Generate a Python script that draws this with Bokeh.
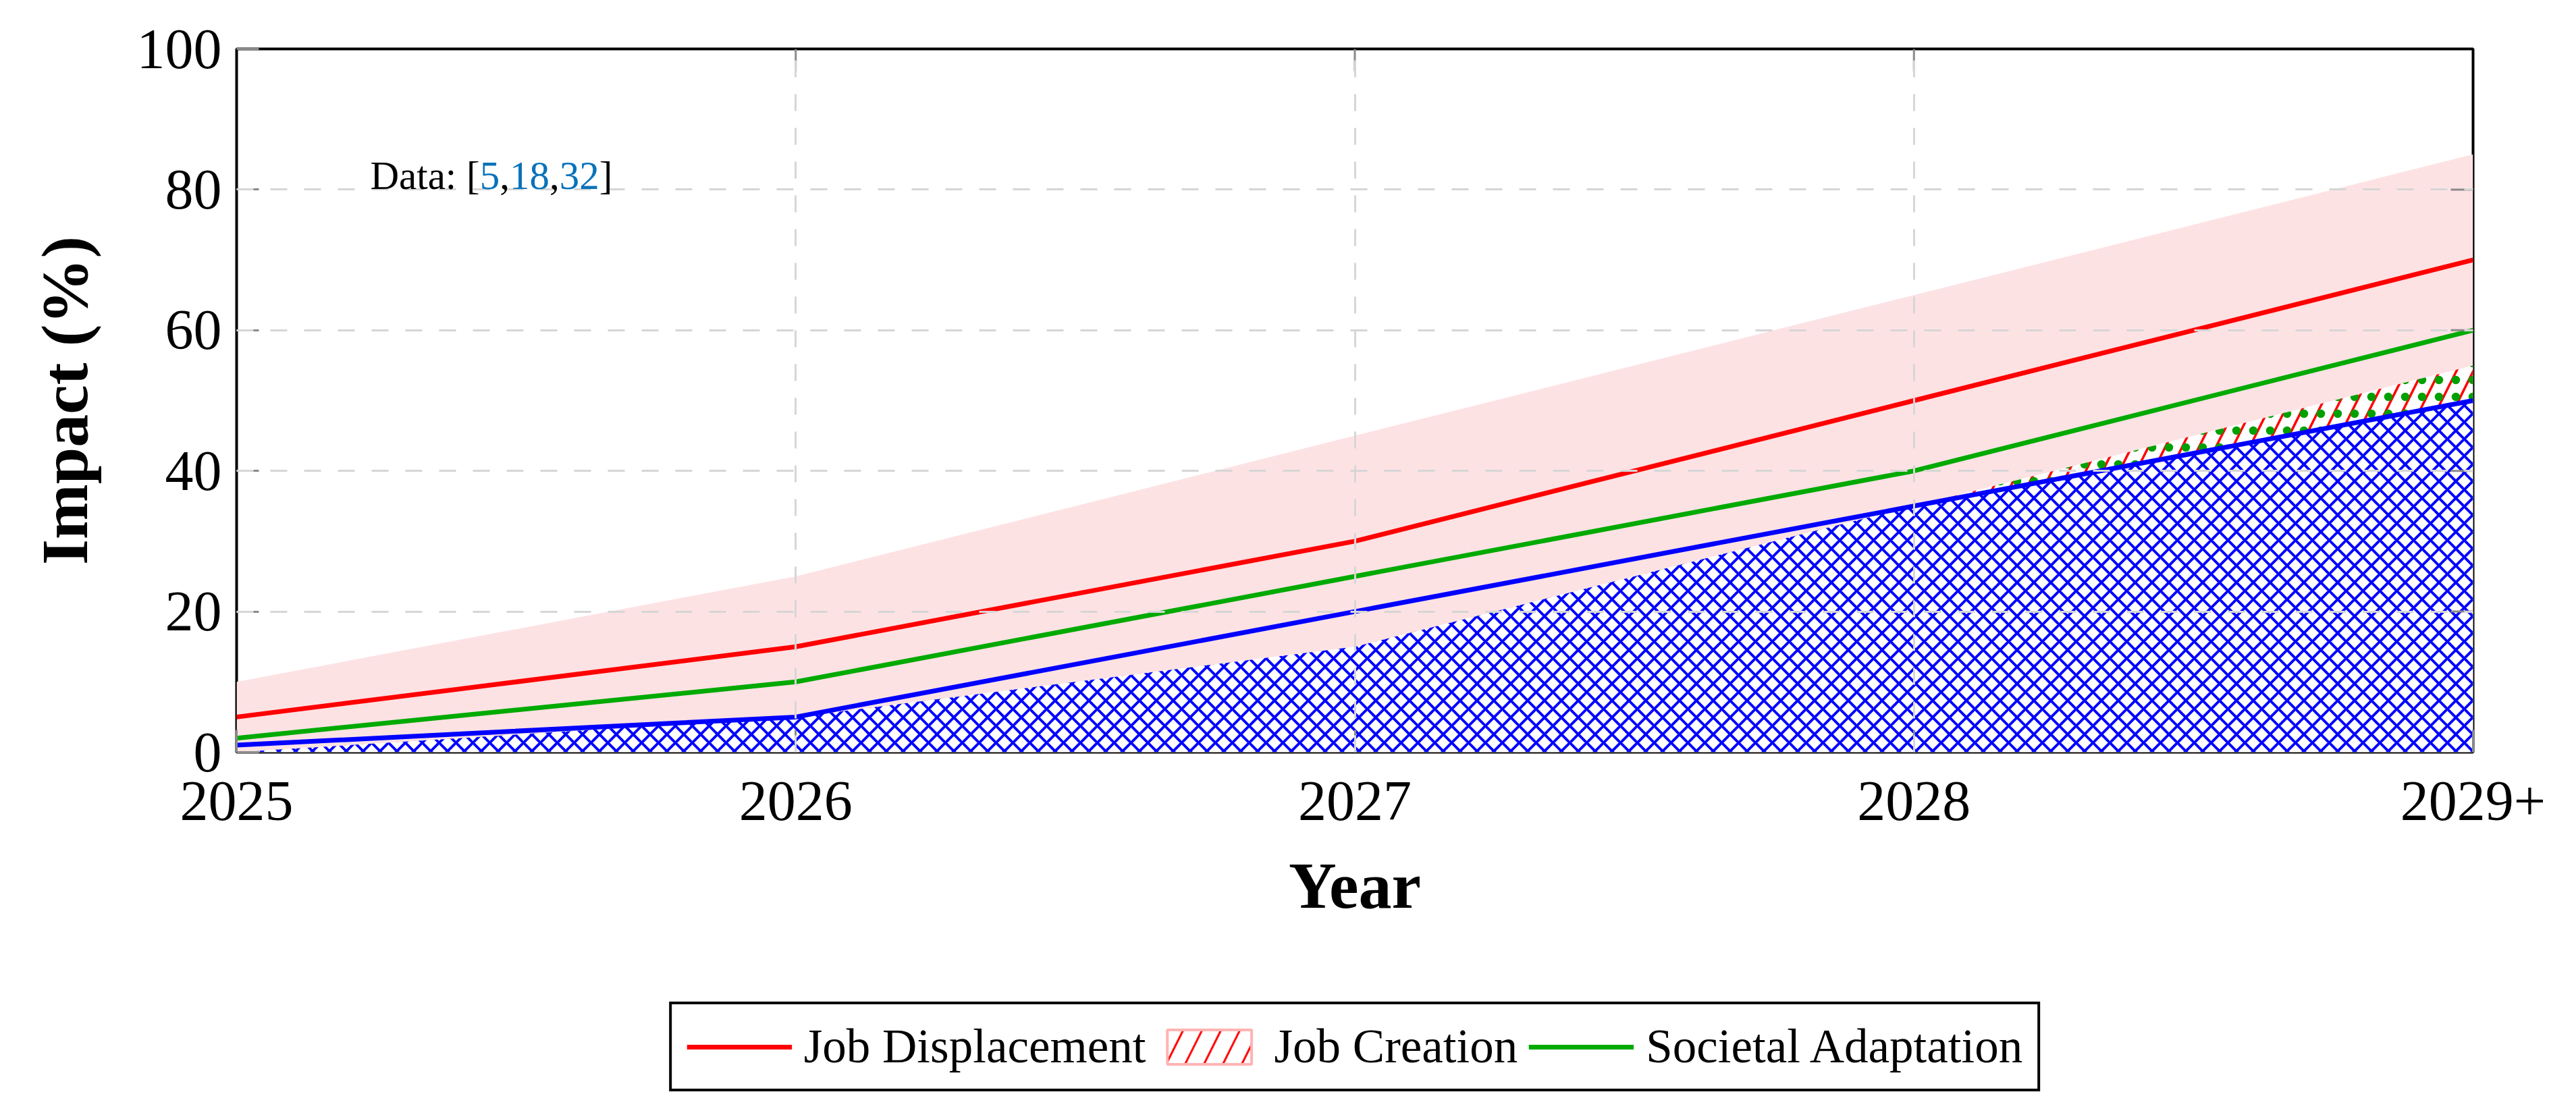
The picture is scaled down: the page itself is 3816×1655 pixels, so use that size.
from bokeh.plotting import figure
from bokeh.layouts import column
from bokeh.models import Range1d, FixedTicker, Legend, LegendItem, Label
from bokeh.embed import file_html
from bokeh.resources import INLINE

# ---------------- data ----------------
years = ["2025", "2026", "2027", "2028", "2029+"]
job_displacement = [5, 15, 30, 50, 70]
societal_adaptation = [2, 10, 25, 40, 60]
adoption_line = [1, 5, 20, 35, 50]          # blue line
job_creation = [0, 5, 15, 35, 55]            # red hatched area top
crosshatch_area = [0, 5, 15, 35, 50]         # blue cross-hatched area top
band_upper = [10, 25, 45, 65, 85]            # pink uncertainty band top
band_lower = [0, 0, 0, 0, 0]
y_ticks = [0, 20, 40, 60, 80, 100]
annotation_values = [5, 18, 32]

xs = list(range(len(years)))
FONT = "Liberation Serif"
TICK_GRAY = "#8a8a8a"
RED, GREEN, BLUE = "#ff0000", "#00aa00", "#0000ff"

W = 3800
p = figure(width=W, height=1420, output_backend="svg", toolbar_location=None,
           x_range=Range1d(0, len(years) - 1), y_range=Range1d(0, 100),
           min_border_left=350, min_border_right=137, min_border_top=72,
           min_border_bottom=306)
p.background_fill_color = "white"
p.border_fill_color = "white"
p.outline_line_color = "black"
p.outline_line_width = 4

# fills (drawn below the grid)
p.varea(x=xs, y1=band_lower, y2=band_upper, fill_color="#fde2e4", level="image")
p.varea(x=xs, y1=band_lower, y2=job_creation, fill_color="white",
        hatch_pattern="/", hatch_color=RED, hatch_weight=3.5, hatch_scale=50,
        level="image")
p.varea(x=xs, y1=band_lower, y2=job_creation, fill_alpha=0,
        hatch_pattern=".", hatch_color="#00a000", hatch_weight=4, hatch_scale=25,
        level="image")
p.varea(x=xs, y1=band_lower, y2=crosshatch_area, fill_color="white",
        hatch_pattern="x", hatch_color=BLUE, hatch_weight=4, hatch_scale=25,
        level="image")

# lines
p.line(xs, job_displacement, line_color=RED, line_width=7)
p.line(xs, societal_adaptation, line_color=GREEN, line_width=7)
p.line(xs, adoption_line, line_color=BLUE, line_width=7)

# inner tick marks on the top and right frame edges (interior ticks only)
top_x = xs[1:-1]
right_y = y_ticks[1:-1]
p.ray(x=top_x, y=[y_ticks[-1]] * len(top_x), length=33, length_units="screen",
      angle=-90, angle_units="deg", line_color=TICK_GRAY, line_width=3)
p.ray(x=[xs[-1]] * len(right_y), y=right_y, length=33, length_units="screen",
      angle=180, angle_units="deg", line_color=TICK_GRAY, line_width=3)

# axes
bottom = p.below[0]
left = p.left[0]
bottom.ticker = FixedTicker(ticks=xs)
bottom.major_label_overrides = {i: y for i, y in enumerate(years)}
left.ticker = FixedTicker(ticks=y_ticks)

for ax in [bottom, left]:
    ax.axis_line_color = None
    ax.major_tick_in = 33
    ax.major_tick_out = 0
    ax.major_tick_line_color = TICK_GRAY
    ax.major_tick_line_width = 3
    ax.minor_tick_line_color = None
    ax.major_label_text_font = FONT
    ax.major_label_text_font_size = "84px"
    ax.major_label_text_color = "black"
    ax.axis_label_text_font = FONT
    ax.axis_label_text_font_size = "98px"
    ax.axis_label_text_font_style = "bold"
    ax.axis_label_text_color = "black"

bottom.major_label_standoff = 44
left.major_label_standoff = 22
bottom.axis_label = "Year"
left.axis_label = "Impact (%)"
bottom.axis_label_standoff = 40
left.axis_label_standoff = 50

# grid on top of everything (dashed light gray)
for g in [p.xgrid[0], p.ygrid[0]]:
    g.grid_line_color = "#d6d6d6"
    g.grid_line_width = 3
    g.grid_line_dash = "25 25"
    g.level = "guide"
p.xgrid[0].ticker = FixedTicker(ticks=xs)
p.ygrid[0].ticker = FixedTicker(ticks=y_ticks)

# "Data: [5,18,32]" annotation
widths = {"D": 0.722, "a": 0.444, "t": 0.278, ":": 0.278, " ": 0.25, "[": 0.333,
          "]": 0.333, ",": 0.25}
def tw(s, size):
    return sum(widths.get(c, 0.5) for c in s) * size

fs = 59
pieces = [("Data: [", "black")]
for i, v in enumerate(annotation_values):
    if i > 0:
        pieces.append((",", "black"))
    pieces.append((str(v), "#0a72ba"))
pieces.append(("]", "black"))
off = 0.0
for txt, col in pieces:
    p.add_layout(Label(x=0.239, y=82, x_units="data", y_units="data", x_offset=off,
                       text=txt, text_color=col, text_font=FONT,
                       text_font_size=f"{fs}px", text_baseline="alphabetic",
                       text_align="left"))
    off += tw(txt, fs)

# ---------------- legend strip below the chart ----------------
q = figure(width=W, height=220, output_backend="svg", toolbar_location=None,
           x_range=Range1d(0, len(years) - 1), y_range=Range1d(0, 100),
           min_border_left=350, min_border_right=137, min_border_top=0,
           min_border_bottom=0)
q.axis.visible = False
q.grid.visible = False
q.outline_line_color = None
q.background_fill_color = "white"
q.border_fill_color = "white"

l_disp = q.line(xs, job_displacement, line_color=RED, line_width=7, visible=False)
l_create = q.patch(x=xs + xs[::-1], y=job_creation + band_lower[::-1],
                   fill_color="white", hatch_pattern="/", hatch_color=RED,
                   hatch_weight=3, hatch_scale=56, line_color="#ffb3b3",
                   line_width=4, visible=False)
l_soc = q.line(xs, societal_adaptation, line_color=GREEN, line_width=7, visible=False)

legend = Legend(items=[
    LegendItem(label="Job Displacement", renderers=[l_disp]),
    LegendItem(label="Job Creation", renderers=[l_create]),
    LegendItem(label="Societal Adaptation", renderers=[l_soc]),
], orientation="horizontal", location="top_center")
legend.label_text_font = FONT
legend.label_text_font_size = "71px"
legend.label_text_color = "black"
legend.glyph_width = 156
legend.glyph_height = 64
legend.label_standoff = 18
legend.spacing = 16
legend.padding = 22
legend.margin = 64
legend.border_line_color = "black"
legend.border_line_alpha = 1
legend.border_line_width = 4
legend.background_fill_color = "white"
legend.background_fill_alpha = 1
q.add_layout(legend, "center")

open("out.html", "w").write(file_html(column(p, q, spacing=0), INLINE))
